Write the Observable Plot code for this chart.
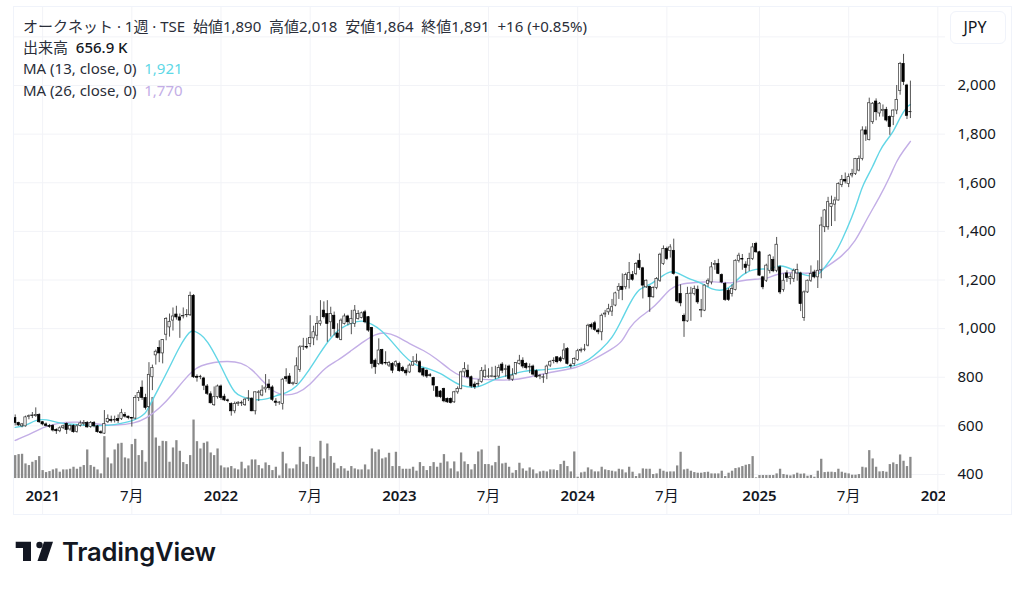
<!DOCTYPE html>
<html lang="ja">
<head>
<meta charset="utf-8">
<script src="https://cdn.jsdelivr.net/npm/d3@7"></script>
<script src="https://cdn.jsdelivr.net/npm/@observablehq/plot@0.6"></script>
<style>
  html, body { margin: 0; padding: 0; background: #fff; }
  #chart { position: relative; width: 1024px; height: 590px; overflow: hidden; font-family: "Noto Sans", "Noto Sans CJK JP", sans-serif; color: #131722; }
  #chart svg.plot { position: absolute; left: 0; top: 0; }
  #frame { position: absolute; left: 13px; top: 6px; width: 997px; height: 507px; border: 1px solid #f0f3fa; }
  .hdr { position: absolute; left: 23px; font-size: 15px; line-height: 18px; white-space: pre; color: #2a2e39; }
  .hdr b { font-weight: 500; color: #131722; }
  #ccy { position: absolute; left: 950px; top: 11px; width: 54px; height: 31px; border: 1px solid #f0f3fa; border-radius: 6px; text-align: center; line-height: 31px; font-size: 16px; text-indent: -6px; color: #131722; }
  #logo { position: absolute; left: 0; top: 530px; }
  #brand { position: absolute; left: 62px; top: 534px; font-family: Inter, sans-serif; font-weight: 600; font-size: 25.6px; line-height: 36px; color: #131722; letter-spacing: -0.2px; }
</style>
</head>
<body>
<div id="chart">
  <div id="frame"></div>
</div>
<script>
const opens = [
632,612,598,598,636,640,640,645,615,606,
600,600,583,578,592,608,585,600,575,600,
608,612,596,612,598,574,568,615,625,622,
628,628,645,638,632,630,715,757,715,677,
800,890,920,898,975,1005,1033,1058,1046,1050,
1055,1055,1135,802,800,795,762,730,685,718,
762,720,705,690,660,690,692,685,712,712,
660,735,725,750,770,758,700,695,690,800,
803,772,773,830,925,925,937,960,971,1019,
1074,1060,1026,1053,980,953,1019,1050,1019,1019,
1040,1044,1067,1047,1003,868,855,912,858,848,
855,848,855,838,827,820,848,862,862,834,
827,808,797,759,741,752,711,711,697,738,
752,820,827,800,770,770,780,800,802,802,
800,803,852,830,844,790,814,855,868,855,
840,844,825,803,798,814,848,866,882,878,
875,916,848,855,871,908,912,930,1015,1022,
992,985,1058,1067,1070,1095,1156,1172,1170,1200,
1220,1225,1279,1248,1170,1172,1129,1167,1197,1266,
1327,1320,1320,1211,1142,1052,1030,1142,1142,1160,
1074,1074,1184,1190,1262,1266,1220,1184,1156,1142,
1159,1279,1286,1263,1259,1286,1348,1314,1211,1197,
1238,1282,1238,1252,1159,1227,1205,1204,1227,1227,
1044,1149,1197,1231,1211,1240,1417,1417,1500,1510,
1527,1590,1612,1595,1630,1636,1650,1698,1815,1776,
1849,1934,1885,1895,1900,1870,1870,1897,1977,2089,
2000,1890];
const highs = [
645,615,610,640,645,655,674,650,618,612,
606,605,588,596,603,612,604,604,605,620,
622,618,618,618,602,580,663,645,640,640,
645,668,655,640,635,725,745,785,730,860,
850,912,950,955,1045,1060,1085,1092,1060,1085,
1078,1150,1140,810,808,800,770,740,760,768,
768,730,710,695,698,700,702,712,745,715,
740,745,765,811,790,765,712,700,795,835,
815,780,880,930,960,960,1053,1010,1050,1115,
1110,1115,1088,1068,1020,1040,1060,1055,1075,1095,
1074,1068,1075,1050,1005,875,958,915,905,865,
860,868,862,845,835,855,885,895,868,838,
830,815,800,762,745,755,715,715,742,760,
825,860,850,805,780,790,840,850,835,841,
845,850,860,850,850,835,860,890,880,860,
855,850,830,812,812,850,868,880,885,885,
938,922,855,880,915,920,935,1018,1022,1030,
1000,1060,1075,1100,1120,1150,1185,1225,1228,1272,
1235,1272,1307,1252,1200,1175,1172,1210,1310,1340,
1335,1345,1368,1215,1180,1060,1170,1170,1175,1175,
1120,1180,1205,1272,1280,1285,1225,1190,1165,1180,
1283,1310,1305,1275,1310,1350,1355,1318,1215,1265,
1305,1295,1375,1258,1225,1238,1225,1245,1265,1232,
1155,1200,1258,1240,1279,1458,1490,1540,1545,1540,
1600,1630,1640,1636,1655,1700,1710,1830,1830,1948,
1930,1945,1930,1920,1910,1875,1900,2000,2095,2128,
2005,2018];
const lows = [
600,598,592,595,625,630,635,610,600,595,
590,575,565,572,585,565,578,570,570,595,
600,590,590,592,570,565,565,610,612,612,
610,622,632,625,595,625,700,705,665,670,
745,850,860,855,950,965,990,1035,960,1040,
1045,1050,795,780,790,745,725,690,680,710,
705,700,695,640,650,680,680,680,700,658,
645,700,720,735,745,700,680,685,665,780,
770,765,770,820,910,915,922,930,950,1010,
1040,944,965,970,958,950,1015,1012,975,1005,
1035,1040,1020,985,834,812,848,848,850,840,
815,840,820,820,805,815,845,855,815,800,
795,800,742,715,712,695,692,690,692,730,
748,800,795,755,750,760,775,795,795,798,
790,795,815,800,785,783,808,850,835,830,
815,805,795,790,775,790,840,855,855,860,
870,850,835,845,865,900,905,925,995,988,
975,950,1045,1055,1050,1090,1120,1115,1160,1163,
1195,1218,1240,1122,1165,1067,1125,1160,1190,1260,
1280,1290,1220,1105,1090,964,1025,1030,1135,1100,
1045,1070,1170,1180,1240,1222,1185,1112,1112,1130,
1155,1270,1240,1225,1235,1280,1310,1215,1160,1190,
1225,1230,1230,1140,1150,1190,1180,1190,1195,1070,
1030,1145,1190,1205,1165,1205,1395,1405,1420,1440,
1525,1580,1595,1580,1620,1630,1645,1690,1770,1772,
1840,1855,1870,1870,1850,1795,1835,1880,1960,2000,
1860,1864];
const closes = [
612,602,606,635,640,643,645,615,606,600,
596,581,578,590,598,583,600,574,598,610,
612,594,612,598,574,570,608,628,620,625,
620,652,638,632,630,715,735,715,674,810,
838,905,898,953,1040,1028,1050,1046,1033,1052,
1056,1135,800,798,802,765,732,693,718,762,
715,705,702,660,690,695,695,708,713,660,
738,738,745,757,755,707,695,696,790,793,
773,775,845,923,926,922,962,985,1019,1030,
1047,1019,1060,998,962,1033,1050,1026,1040,1074,
1060,1063,1026,992,855,841,910,855,857,858,
827,862,825,825,816,848,862,866,820,807,
803,806,766,720,718,701,697,694,738,752,
820,834,800,762,759,773,825,827,803,804,
803,838,827,833,793,807,858,868,844,838,
843,811,800,806,800,844,862,868,862,866,
910,855,846,875,907,912,914,1012,1005,995,
985,1053,1062,1080,1088,1145,1172,1159,1220,1228,
1201,1266,1249,1177,1197,1129,1167,1204,1304,1327,
1286,1334,1225,1112,1104,1030,1142,1144,1163,1108,
1076,1177,1197,1252,1266,1225,1190,1118,1118,1163,
1279,1300,1284,1250,1286,1334,1314,1218,1170,1259,
1300,1236,1345,1149,1197,1208,1212,1238,1241,1101,
1149,1197,1225,1211,1238,1424,1486,1520,1513,1527,
1595,1612,1605,1623,1636,1698,1698,1815,1798,1927,
1925,1890,1925,1900,1856,1829,1897,1941,2089,2014,
1875,1891];
const volumes = [
711,742,752,453,402,505,556,680,247,185,
216,268,299,196,268,268,288,350,288,350,
402,886,402,350,268,144,1298,639,453,886,
1071,1092,639,608,1051,1215,711,865,505,2369,
2513,1257,999,1154,1143,505,948,1174,845,494,
433,711,1813,1143,917,1092,1133,793,711,917,
391,330,330,371,299,268,505,299,391,577,
577,402,299,484,402,247,350,82,814,453,
299,299,422,968,505,433,680,659,350,1154,
608,1071,680,474,299,371,299,227,371,299,
268,268,422,268,917,814,886,608,639,783,
371,814,371,288,288,288,350,227,494,371,
247,371,494,350,474,742,515,299,515,206,
793,515,433,268,433,824,886,433,433,391,
494,999,453,474,350,165,247,474,299,227,
330,268,144,206,227,206,268,268,247,433,
536,371,206,824,41,175,196,330,268,206,
206,350,268,247,227,206,288,268,175,350,
196,62,144,299,288,288,124,144,288,227,
196,206,206,391,814,268,288,227,185,165,
165,185,196,144,144,144,227,62,165,227,
309,330,371,412,433,680,21,93,93,93,
93,93,144,288,124,103,82,113,165,134,
144,72,93,41,227,597,185,196,196,185,
288,196,165,144,103,103,124,350,330,865,
608,350,206,216,196,433,484,433,731,536,
371,657];

const ma13Index = [
0,3,6,9,13,18,25,29,35,38,
39,42,45,48,51,52,54,56,59,62,
64,66,69,73,76,79,82,85,89,92,
95,98,101,104,107,110,113,116,118,121,
124,127,130,135,138,141,144,148,154,157,
164,167,171,174,177,179,182,185,188,191,
193,197,200,203,207,209,212,216,220,223,
227,230,234,236,239,241,244,246,247,250,
252,254,256,258,260,261];
const ma13Values = [
594,600,625,628,610,605,599,604,622,649,
679,759,841,930,992,992,978,951,875,786,
734,720,707,707,725,734,759,814,903,964,
1005,1022,1036,1019,992,944,893,855,844,834,
816,789,762,756,779,800,807,827,830,834,
848,868,916,958,1040,1100,1170,1177,1211,1238,
1232,1200,1190,1159,1156,1177,1225,1249,1241,1266,
1241,1218,1214,1252,1307,1362,1458,1540,1588,1664,
1732,1774,1808,1870,1914,1921];
const ma26Index = [
0,5,8,12,18,25,29,35,38,42,
46,49,52,54,58,62,66,69,72,76,
79,82,86,90,94,98,102,105,108,111,
115,119,123,127,130,133,139,144,150,156,
164,168,174,177,179,182,185,188,191,194,
198,204,209,211,216,219,222,226,230,234,
237,241,245,248,252,255,257,259,261];
const ma26Values = [
540,570,594,611,619,605,601,611,629,670,
731,786,830,848,862,867,860,834,786,731,
726,731,766,838,868,910,951,978,985,971,
937,912,875,827,803,793,790,786,800,821,
838,868,916,944,1005,1047,1074,1115,1167,1184,
1190,1195,1184,1197,1204,1204,1225,1232,1227,1229,
1259,1296,1358,1444,1540,1623,1691,1732,1770];

const yearTickIndex = [8,60,112,164,217,269];
const yearTickLabels = ["2021","2022","2023","2024","2025","2026"];
const monthTickIndex = [34,86,138,190,243];
const monthTickLabels = ["7月","7月","7月","7月","7月"];
const priceTicks = [400,600,800,1000,1200,1400,1600,1800,2000];
const gridPrices = [400,600,800,1000,1200,1400,1600,1800,2000,2200];

const headerLines = [
  ["オークネット · 1週 · TSE  始値1,890  高値2,018  安値1,864  終値1,891  +16 (+0.85%)", 17],
  ["出来高  <b>656.9 K</b>", 38],
  ['MA (13, close, 0)  <span style="color:#5ed8e6">1,921</span>', 59],
  ['MA (26, close, 0)  <span style="color:#c3aee6">1,770</span>', 81]
];

const VOLUME_FLOOR = 383.4;       // price-scale level of the volume pane's baseline
const VOLUME_TO_PRICE = 0.1327;   // price-scale units per thousand shares

const bars = opens.map((o, i) => ({i, o, h: highs[i], l: lows[i], c: closes[i], v: volumes[i], up: closes[i] >= o}));
const ma13 = ma13Index.map((i, k) => ({i, v: ma13Values[k]}));
const ma26 = ma26Index.map((i, k) => ({i, v: ma26Values[k]}));
const HALF = 0.34;
const GRID = "#f2f3f7";

const chart = Plot.plot({
  width: 1024, height: 590,
  marginLeft: 13, marginRight: 79, marginTop: 6, marginBottom: 76,
  style: {background: "transparent", fontFamily: '"Noto Sans","Noto Sans CJK JP",sans-serif', overflow: "hidden"},
  x: {type: "linear", domain: [0, 261], range: [14.7, 909.9], axis: null},
  y: {type: "linear", domain: [2000, 400], range: [85, 474], axis: null},
  marks: [
    Plot.gridY(gridPrices, {stroke: GRID, strokeOpacity: 1}),
    Plot.gridX([...yearTickIndex, ...monthTickIndex], {stroke: GRID, strokeOpacity: 1}),
    Plot.ruleX(bars, {x: "i", y1: () => VOLUME_FLOOR, y2: d => VOLUME_FLOOR + d.v * VOLUME_TO_PRICE, stroke: "#8a8a8a", strokeWidth: 2.3}),
    Plot.line(ma26, {x: "i", y: "v", stroke: "#c3aee6", strokeWidth: 1.4, curve: "basis"}),
    Plot.line(ma13, {x: "i", y: "v", stroke: "#62d6e6", strokeWidth: 1.4, curve: "basis"}),
    Plot.ruleX(bars, {x: "i", y1: "l", y2: "h", stroke: "#333", strokeWidth: 0.85}),
    Plot.rect(bars, {
      x1: d => d.i - HALF, x2: d => d.i + HALF,
      y1: d => d.o, y2: d => d.c === d.o ? d.c + 1 : d.c,
      fill: d => d.up ? "#fff" : "#000",
      stroke: d => d.up ? "#333" : "#000", strokeWidth: 0.7
    }),
    Plot.axisY(priceTicks, {anchor: "right", tickSize: 0, tickPadding: 12, tickFormat: d3.format(","), fontSize: 15, fill: "#131722", label: null}),
    Plot.text(yearTickIndex, {x: d => d, text: (d, k) => yearTickLabels[k], frameAnchor: "bottom", dy: -14, fontSize: 15, fontWeight: 600, fill: "#131722", clip: true}),
    Plot.text(monthTickIndex, {x: d => d, text: (d, k) => monthTickLabels[k], frameAnchor: "bottom", dy: -14, fontSize: 15, fill: "#131722", clip: true})
  ]
});

const root = document.getElementById("chart");
root.appendChild(chart);
for (const [html, top] of headerLines) {
  const d = document.createElement("div");
  d.className = "hdr";
  d.style.top = top + "px";
  d.innerHTML = html;
  root.appendChild(d);
}
const ccy = document.createElement("div");
ccy.id = "ccy"; ccy.textContent = "JPY";
root.appendChild(ccy);
root.insertAdjacentHTML("beforeend", `
  <svg id="logo" width="60" height="40" viewBox="0 530 60 40" fill="#131722">
    <path d="M15.7 541.7H31V561H23V548H15.7Z"/>
    <circle cx="39.5" cy="545" r="3.2"/>
    <path d="M44 541.7H53L46.5 561H37.5Z"/>
  </svg>
  <div id="brand">TradingView</div>`);
</script>
</body>
</html>
